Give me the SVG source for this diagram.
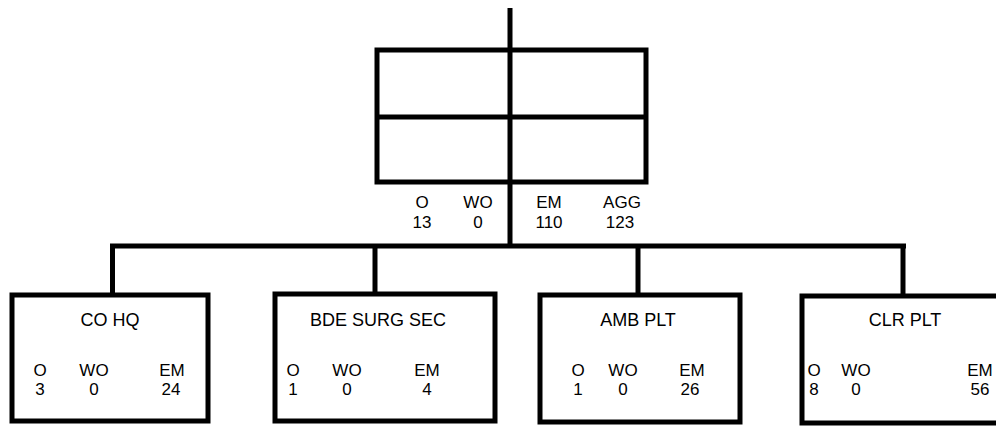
<svg xmlns="http://www.w3.org/2000/svg" width="996" height="427" viewBox="0 0 996 427">
<style>
.box{fill:none;stroke:#000;stroke-width:5}
.ln{fill:none;stroke:#000;stroke-width:5;stroke-linecap:butt}
text{font-family:"Liberation Sans",Arial,sans-serif;font-size:17px;fill:#000;text-anchor:middle}
.t{font-size:18px}
</style>
<rect width="996" height="427" fill="#fff"/>
<g id="connectors">
<path class="ln" d="M510,8 V246"/>
<path class="ln" d="M110,246 H906"/>
<path class="ln" d="M112.5,246 V294"/>
<path class="ln" d="M375,246 V294"/>
<path class="ln" d="M638,246 V294"/>
<path class="ln" d="M903,246 V296"/>
</g>
<g id="top">
<rect class="box" x="377" y="50" width="269" height="132"/>
<path class="ln" d="M377,117 H646"/>
<text x="422" y="208">O</text>
<text x="478" y="208">WO</text>
<text x="549" y="208">EM</text>
<text x="622" y="208">AGG</text>
<text x="422" y="228">13</text>
<text x="478" y="228">0</text>
<text x="549" y="228">110</text>
<text x="620" y="228">123</text>
</g>
<g id="co-hq">
<rect class="box" x="12" y="295" width="196" height="126"/>
<text class="t" x="110" y="326">CO HQ</text>
<text x="40" y="376">O</text>
<text x="94" y="376">WO</text>
<text x="172" y="376">EM</text>
<text x="40" y="395">3</text>
<text x="94" y="395">0</text>
<text x="171" y="395">24</text>
</g>
<g id="bde-surg-sec">
<rect class="box" x="275" y="294" width="220" height="127"/>
<text class="t" x="378" y="326">BDE SURG SEC</text>
<text x="293" y="376">O</text>
<text x="347" y="376">WO</text>
<text x="427" y="376">EM</text>
<text x="293" y="395">1</text>
<text x="347" y="395">0</text>
<text x="427" y="395">4</text>
</g>
<g id="amb-plt">
<rect class="box" x="540" y="295" width="200" height="127"/>
<text class="t" x="638" y="326">AMB PLT</text>
<text x="578" y="376">O</text>
<text x="623" y="376">WO</text>
<text x="692" y="376">EM</text>
<text x="578" y="395">1</text>
<text x="623" y="395">0</text>
<text x="690" y="395">26</text>
</g>
<g id="clr-plt">
<rect class="box" x="802" y="296" width="210" height="127"/>
<text class="t" x="905" y="326">CLR PLT</text>
<text x="814" y="376">O</text>
<text x="856" y="376">WO</text>
<text x="980" y="376">EM</text>
<text x="814" y="395">8</text>
<text x="856" y="395">0</text>
<text x="980" y="395">56</text>
</g>
</svg>
